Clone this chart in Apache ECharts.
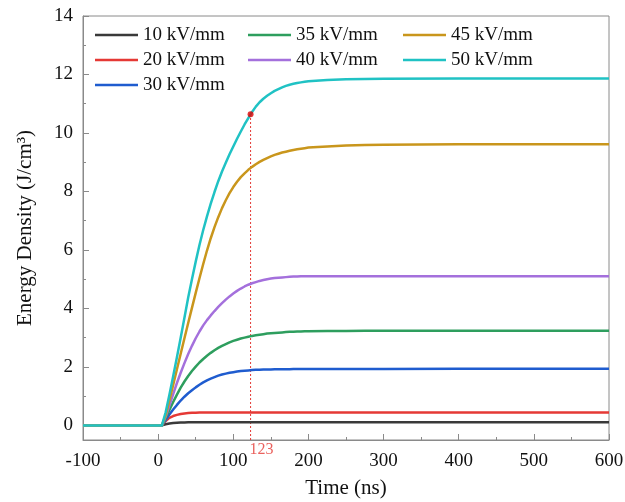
<!DOCTYPE html>
<html><head><meta charset="utf-8">
<script src="https://cdn.jsdelivr.net/npm/echarts@6/dist/echarts.min.js"></script>
<style>html,body{margin:0;padding:0;background:#fff}#c{width:625px;height:502px}</style>
</head><body><div id="c"></div>
<script>
const times = [-100,0,5,10,15,20,25,30,35,40,45,50,55,60,65,70,75,80,85,90,95,100,105,110,115,120,125,130,135,140,145,150,155,160,165,170,175,180,185,190,195,200,225,250,275,300,400,500,600];
const names = ['10 kV/mm','20 kV/mm','30 kV/mm','35 kV/mm','40 kV/mm','45 kV/mm','50 kV/mm'];
const e10 = [0,0,0,0.04,0.065,0.08,0.09,0.097,0.102,0.105,0.107,0.108,0.109,0.11,0.11,0.11,0.11,0.11,0.11,0.11,0.11,0.11,0.11,0.11,0.11,0.11,0.11,0.11,0.11,0.11,0.11,0.11,0.11,0.11,0.11,0.11,0.11,0.11,0.11,0.11,0.11,0.11,0.11,0.11,0.11,0.11,0.11,0.11,0.11];
const e20 = [0,0,0,0.15,0.26,0.32,0.36,0.39,0.41,0.42,0.43,0.435,0.44,0.44,0.44,0.44,0.44,0.44,0.44,0.44,0.44,0.44,0.44,0.44,0.44,0.44,0.44,0.44,0.44,0.44,0.44,0.44,0.44,0.44,0.44,0.44,0.44,0.44,0.44,0.44,0.44,0.44,0.44,0.44,0.44,0.44,0.44,0.44,0.44];
const e30 = [0,0,0,0.18,0.37,0.54,0.7,0.85,0.98,1.1,1.2,1.3,1.39,1.47,1.54,1.6,1.65,1.7,1.74,1.77,1.8,1.82,1.84,1.86,1.87,1.88,1.89,1.9,1.9,1.91,1.91,1.91,1.92,1.92,1.92,1.92,1.92,1.93,1.93,1.93,1.93,1.93,1.93,1.93,1.93,1.93,1.94,1.94,1.94];
const e35 = [0,0,0,0.25,0.53,0.8,1.05,1.29,1.5,1.69,1.86,2.01,2.15,2.27,2.38,2.48,2.57,2.65,2.72,2.78,2.84,2.89,2.93,2.97,3.0,3.03,3.06,3.08,3.1,3.12,3.14,3.15,3.16,3.17,3.18,3.19,3.2,3.2,3.21,3.21,3.22,3.22,3.225,3.23,3.235,3.24,3.24,3.24,3.24];
const e40 = [0,0,0,0.3,0.68,1.07,1.45,1.8,2.13,2.44,2.72,2.98,3.21,3.42,3.6,3.76,3.91,4.05,4.18,4.3,4.41,4.51,4.6,4.68,4.75,4.81,4.86,4.9,4.94,4.97,5.0,5.02,5.04,5.05,5.06,5.07,5.08,5.09,5.09,5.1,5.1,5.1,5.1,5.1,5.1,5.1,5.1,5.1,5.1];
const e45 = [0,0,0,0.35,0.85,1.38,1.92,2.45,2.98,3.5,4.02,4.53,5.03,5.52,5.98,6.4,6.78,7.12,7.43,7.7,7.94,8.15,8.33,8.49,8.62,8.74,8.84,8.93,9.01,9.08,9.14,9.2,9.25,9.29,9.33,9.36,9.39,9.42,9.44,9.46,9.48,9.5,9.54,9.57,9.59,9.6,9.61,9.61,9.61];
const e50 = [0,0,0,0.45,1.05,1.68,2.33,3.0,3.68,4.37,5.0,5.6,6.17,6.68,7.15,7.58,7.98,8.35,8.68,8.98,9.27,9.54,9.8,10.05,10.29,10.51,10.72,10.9,11.05,11.17,11.27,11.36,11.44,11.5,11.56,11.61,11.65,11.68,11.71,11.73,11.75,11.77,11.81,11.835,11.845,11.85,11.86,11.86,11.86];
const markT = 123;
const markE = 10.64;
const yLabels = [0,2,4,6,8,10,12,14];
const yMinor = [1,3,5,7,9,11,13];

const colors = ['#3a3a3a','#e53935','#1f5ccf','#2e9e5e','#a470dc','#c9961c','#20c2c4'];
const seriesVals = [e10,e20,e30,e35,e40,e45,e50];
const font = '"Liberation Serif","Times New Roman",serif';
const yMin = -0.5, yMax = 14;

const chart = echarts.init(document.getElementById('c'));
const series = seriesVals.map((v,i)=>({
  name: names[i], type:'line', symbol:'none', smooth:false,
  lineStyle:{width:2.5,color:colors[i], join:'round'}, itemStyle:{color:colors[i]},
  data: times.map((t,k)=>[t,v[k]]), z: 3+i
}));
series.push({
  type:'line', symbol:'none', silent:true,
  lineStyle:{color:'#e53935', width:1, type:[2,2]},
  data:[[markT,yMin],[markT,markE]], z:2
});
series.push({
  type:'scatter', symbolSize:6, itemStyle:{color:'#e00000'},
  data:[[markT,markE]], z:20
});
series.push({
  type:'scatter', symbolSize:0, data:[[markT,yMin]],
  label:{show:true, position:'bottom', distance:2, offset:[11,0], formatter:String(markT),
    color:'#e53935', fontSize:16, fontFamily:font}, z:20
});

const legendCommon = {
  orient:'vertical', itemWidth:43, itemHeight:2.5, itemGap:5, icon:'rect', padding:0,
  textStyle:{fontSize:19, fontFamily:font, color:'#111', lineHeight:20},
  selectedMode:false
};
chart.setOption({
  animation:false,
  backgroundColor:'#fff',
  grid:{left:83, right:16, top:16, bottom:62, show:true, borderColor:'#8a8a8a', borderWidth:1, outerBoundsMode:'none', containLabel:false},
  legend:[
    Object.assign({left:95, top:25, data:names.slice(0,3)}, legendCommon),
    Object.assign({left:248, top:25, data:names.slice(3,5)}, legendCommon),
    Object.assign({left:403, top:25, data:names.slice(5,7)}, legendCommon)
  ],
  xAxis:{
    type:'value', min:-100, max:600, interval:100,
    name:'Time (ns)', nameLocation:'middle', nameGap:38,
    nameTextStyle:{fontSize:21, fontFamily:font, color:'#111'},
    axisLine:{onZero:false, lineStyle:{color:'#8a8a8a', width:1}},
    axisTick:{inside:true, length:6, lineStyle:{color:'#8a8a8a'}},
    minorTick:{show:true, splitNumber:2, length:3, lineStyle:{color:'#8a8a8a'}},
    axisLabel:{fontSize:19, fontFamily:font, color:'#111', margin:12},
    splitLine:{show:false}
  },
  yAxis:[{
    type:'value', min:yMin, max:yMax, position:'left',
    name:'Energy Density (J/cm³)', nameLocation:'middle', nameGap:47,
    nameTextStyle:{fontSize:21, fontFamily:font, color:'#111'},
    axisLine:{show:true, onZero:false, lineStyle:{color:'#8a8a8a', width:1}},
    axisTick:{show:true, inside:true, length:6, customValues:yLabels, lineStyle:{color:'#8a8a8a'}},
    axisLabel:{fontSize:19, fontFamily:font, color:'#111', margin:10, customValues:yLabels},
    splitLine:{show:false}
  },{
    type:'value', min:yMin, max:yMax, position:'left', offset:0,
    axisLine:{show:false, onZero:false},
    axisTick:{show:true, inside:true, length:3, customValues:yMinor, lineStyle:{color:'#8a8a8a'}},
    axisLabel:{show:false, customValues:yMinor},
    splitLine:{show:false}
  }],
  series: series
});
</script></body></html>
